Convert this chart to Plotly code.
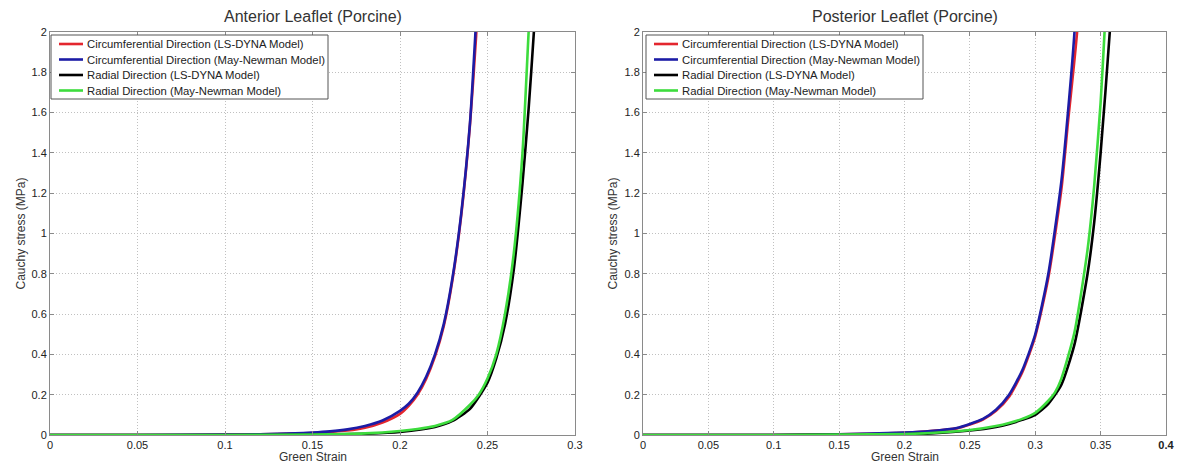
import plotly.graph_objects as go

# ---------------- data ----------------
series_names = [
    "Circumferential Direction (LS-DYNA Model)",
    "Circumferential Direction (May-Newman Model)",
    "Radial Direction (LS-DYNA Model)",
    "Radial Direction (May-Newman Model)",
]
series_colors = ["#e3262e", "#1c1ca6", "#000000", "#3ddc3d"]

# Anterior leaflet
ant_circ_lsdyna_x = [0, 0.05, 0.10, 0.12, 0.14, 0.15, 0.16, 0.17, 0.18, 0.19, 0.20, 0.205, 0.21, 0.215, 0.22, 0.225, 0.23, 0.235, 0.24, 0.2435, 0.246]
ant_circ_lsdyna_y = [0, 0.0, 0.001, 0.003, 0.007, 0.010, 0.015, 0.022, 0.036, 0.062, 0.105, 0.145, 0.20, 0.28, 0.39, 0.54, 0.77, 1.09, 1.54, 1.98, 2.4]
ant_circ_mn_x = [0, 0.05, 0.10, 0.12, 0.14, 0.15, 0.16, 0.17, 0.18, 0.19, 0.20, 0.205, 0.21, 0.215, 0.22, 0.225, 0.23, 0.235, 0.24, 0.243, 0.2455]
ant_circ_mn_y = [0, 0.0, 0.002, 0.004, 0.008, 0.012, 0.018, 0.028, 0.045, 0.072, 0.12, 0.155, 0.21, 0.29, 0.40, 0.55, 0.78, 1.10, 1.55, 1.98, 2.4]
ant_rad_lsdyna_x = [0, 0.05, 0.10, 0.15, 0.18, 0.20, 0.22, 0.23, 0.24, 0.25, 0.255, 0.26, 0.265, 0.27, 0.2735, 0.2765, 0.279]
ant_rad_lsdyna_y = [0, 0.0, 0.0, 0.001, 0.006, 0.015, 0.04, 0.07, 0.13, 0.26, 0.38, 0.55, 0.82, 1.25, 1.62, 2.0, 2.4]
ant_rad_mn_x = [0, 0.05, 0.10, 0.15, 0.18, 0.20, 0.21, 0.22, 0.23, 0.24, 0.245, 0.25, 0.255, 0.26, 0.265, 0.27, 0.2735, 0.276]
ant_rad_mn_y = [0, 0.0, 0.0, 0.002, 0.008, 0.02, 0.03, 0.045, 0.075, 0.15, 0.20, 0.28, 0.40, 0.60, 0.90, 1.40, 2.0, 2.4]

# Posterior leaflet
post_circ_lsdyna_x = [0, 0.05, 0.10, 0.15, 0.20, 0.22, 0.24, 0.25, 0.26, 0.27, 0.28, 0.29, 0.30, 0.31, 0.32, 0.325, 0.332, 0.335]
post_circ_lsdyna_y = [0, 0.0, 0.0, 0.003, 0.011, 0.019, 0.033, 0.052, 0.077, 0.12, 0.19, 0.31, 0.49, 0.78, 1.22, 1.55, 2.0, 2.4]
post_circ_mn_x = [0, 0.05, 0.10, 0.15, 0.20, 0.22, 0.24, 0.25, 0.26, 0.27, 0.28, 0.29, 0.30, 0.31, 0.32, 0.325, 0.330, 0.333]
post_circ_mn_y = [0, 0.0, 0.0, 0.003, 0.012, 0.020, 0.035, 0.055, 0.08, 0.125, 0.20, 0.32, 0.50, 0.80, 1.26, 1.60, 2.0, 2.4]
post_rad_lsdyna_x = [0, 0.05, 0.10, 0.15, 0.20, 0.22, 0.25, 0.27, 0.28, 0.29, 0.30, 0.31, 0.32, 0.33, 0.34, 0.345, 0.35, 0.357, 0.36]
post_rad_lsdyna_y = [0, 0.0, 0.0, 0.001, 0.004, 0.008, 0.022, 0.04, 0.055, 0.075, 0.10, 0.155, 0.25, 0.45, 0.80, 1.05, 1.40, 2.0, 2.4]
post_rad_mn_x = [0, 0.05, 0.10, 0.15, 0.20, 0.22, 0.25, 0.27, 0.28, 0.29, 0.30, 0.31, 0.315, 0.32, 0.33, 0.34, 0.345, 0.35, 0.353, 0.356]
post_rad_mn_y = [0, 0.0, 0.0, 0.002, 0.005, 0.01, 0.025, 0.045, 0.06, 0.08, 0.11, 0.17, 0.21, 0.28, 0.51, 0.92, 1.23, 1.65, 2.0, 2.4]

titles = ["Anterior Leaflet (Porcine)", "Posterior Leaflet (Porcine)"]
x_label = "Green Strain"
y_label = "Cauchy stress (MPa)"
ant_xticks = [0, 0.05, 0.1, 0.15, 0.2, 0.25, 0.3]
ant_xticktext = ["0", "0.05", "0.1", "0.15", "0.2", "0.25", "0.3"]
post_xticks = [0, 0.05, 0.1, 0.15, 0.2, 0.25, 0.3, 0.35, 0.4]
post_xticktext = ["0", "0.05", "0.1", "0.15", "0.2", "0.25", "0.3", "0.35", "<b>0.4</b>"]
yticks = [0, 0.2, 0.4, 0.6, 0.8, 1, 1.2, 1.4, 1.6, 1.8, 2]
yticktext = ["0", "0.2", "0.4", "0.6", "0.8", "1", "1.2", "1.4", "1.6", "1.8", "2"]

# ---------------- figure ----------------
WIN_W, WIN_H = 1183, 467
OFF = 8                      # default page body margin
W, H = WIN_W - 2 * OFF, WIN_H - OFF
FONT = "Liberation Sans, Arial, sans-serif"
TXT = "#333333"

# window pixel -> paper fraction
px_x = lambda p: (p - OFF) / W
px_y = lambda p: 1 - (p - OFF) / H

fig = go.Figure()

ant = [(ant_circ_lsdyna_x, ant_circ_lsdyna_y), (ant_circ_mn_x, ant_circ_mn_y),
       (ant_rad_lsdyna_x, ant_rad_lsdyna_y), (ant_rad_mn_x, ant_rad_mn_y)]
post = [(post_circ_lsdyna_x, post_circ_lsdyna_y), (post_circ_mn_x, post_circ_mn_y),
        (post_rad_lsdyna_x, post_rad_lsdyna_y), (post_rad_mn_x, post_rad_mn_y)]

for data, xa, ya in [(ant, "x", "y"), (post, "x2", "y2")]:
    for (xs, ys), name, col in zip(data, series_names, series_colors):
        fig.add_trace(go.Scatter(
            x=xs, y=ys, name=name, mode="lines",
            line=dict(color=col, width=2.6, shape="spline", smoothing=0.6),
            xaxis=xa, yaxis=ya, showlegend=False,
        ))

dom_y = [px_y(435), px_y(32)]
dom_x1 = [px_x(50), px_x(575)]
dom_x2 = [px_x(643), px_x(1166)]

axis_common = dict(
    showline=True, linecolor="#8a8a8a", linewidth=1, mirror="ticks",
    ticks="inside", ticklen=4, tickcolor="#8a8a8a",
    showgrid=True, gridcolor="#c0c0c0", griddash="1px,2px", gridwidth=1,
    zeroline=False, tickfont=dict(family=FONT, size=11, color="#222"),
    automargin=False,
)

fig.update_layout(
    width=W, height=H, margin=dict(l=0, r=0, t=0, b=0),
    paper_bgcolor="white", plot_bgcolor="white",
    font=dict(family=FONT, color=TXT), showlegend=False,
    xaxis=dict(domain=dom_x1, range=[0, 0.3], tickvals=ant_xticks, ticktext=ant_xticktext, anchor="y", **axis_common),
    yaxis=dict(domain=dom_y, range=[0, 2], tickvals=yticks, ticktext=yticktext, anchor="x", **axis_common),
    xaxis2=dict(domain=dom_x2, range=[0, 0.4], tickvals=post_xticks, ticktext=post_xticktext, anchor="y2", **axis_common),
    yaxis2=dict(domain=dom_y, range=[0, 2], tickvals=yticks, ticktext=yticktext, anchor="x2", **axis_common),
)

annotations = []
shapes = []
for title, dx in zip(titles, [dom_x1, dom_x2]):
    cx = (dx[0] + dx[1]) / 2
    annotations.append(dict(text=title, x=cx, y=px_y(16), xref="paper", yref="paper",
                            showarrow=False, xanchor="center", yanchor="middle",
                            font=dict(family=FONT, size=16, color=TXT)))
    annotations.append(dict(text=x_label, x=cx, y=px_y(457), xref="paper", yref="paper",
                            showarrow=False, xanchor="center", yanchor="middle",
                            font=dict(family=FONT, size=12, color=TXT)))
for lx in [20, 612]:
    annotations.append(dict(text=y_label, x=px_x(lx), y=(dom_y[0] + dom_y[1]) / 2,
                            xref="paper", yref="paper", showarrow=False, textangle=-90,
                            xanchor="center", yanchor="middle",
                            font=dict(family=FONT, size=12, color=TXT)))

# legend boxes (one per panel), drawn like the MATLAB legend
for left in [51, 646]:
    top, bottom, right = 35, 99, left + 277
    shapes.append(dict(type="rect", xref="paper", yref="paper",
                       x0=px_x(left), x1=px_x(right), y0=px_y(bottom), y1=px_y(top),
                       fillcolor="white", line=dict(color="#555555", width=1), layer="above"))
    for i, (name, col) in enumerate(zip(series_names, series_colors)):
        ry = 44 + i * 15.5
        shapes.append(dict(type="line", xref="paper", yref="paper",
                           x0=px_x(left + 8), x1=px_x(left + 32), y0=px_y(ry), y1=px_y(ry),
                           line=dict(color=col, width=2.6), layer="above"))
        annotations.append(dict(text=name, x=px_x(left + 34), y=px_y(ry), xref="paper", yref="paper",
                                showarrow=False, xanchor="left", yanchor="middle",
                                font=dict(family=FONT, size=11.3, color="#222")))

fig.update_layout(annotations=annotations, shapes=shapes)

fig.write_html("out.html")
